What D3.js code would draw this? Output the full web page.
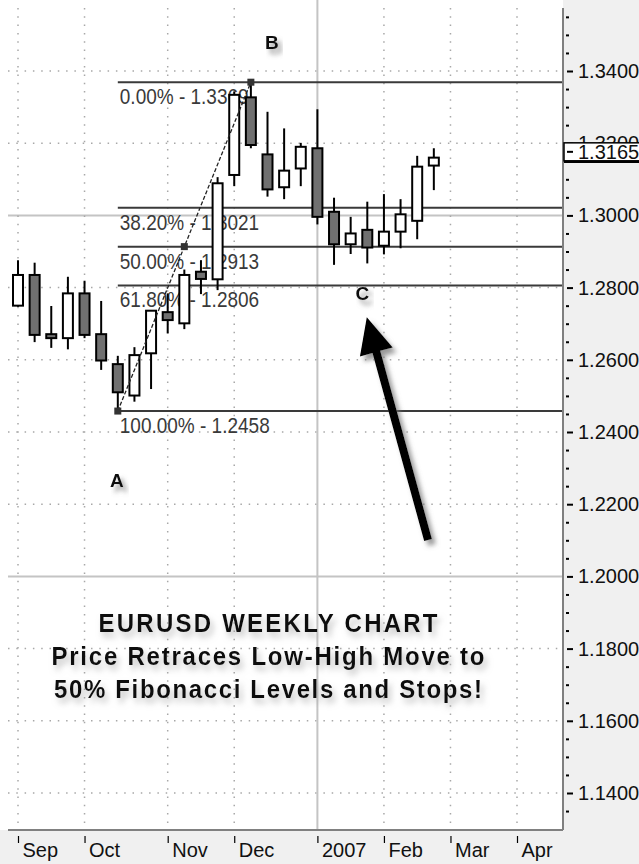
<!DOCTYPE html>
<html lang="en">
<head>
<meta charset="UTF-8">
<title>EURUSD Weekly Chart</title>
<script src="https://d3js.org/d3.v7.min.js"></script>
<style>
  body { margin: 0; background: #fff; }
  svg text { font-family: "Liberation Sans", Arial, sans-serif; }
</style>
</head>
<body>
<script>
// weekly bars, Sep 2006 - Feb 2007
const weeks  = ["2006-09-03","2006-09-10","2006-09-17","2006-09-24","2006-10-01","2006-10-08","2006-10-15",
                "2006-10-22","2006-10-29","2006-11-05","2006-11-12","2006-11-19","2006-11-26","2006-12-03",
                "2006-12-10","2006-12-17","2006-12-24","2006-12-31","2007-01-07","2007-01-14","2007-01-21",
                "2007-01-28","2007-02-04","2007-02-11","2007-02-18","2007-02-25"];
const opens  = [1.2750,1.2835,1.2671,1.2660,1.2784,1.2671,1.2588,1.2501,1.2618,1.2732,1.2701,1.2844,1.2823,
                1.3112,1.3327,1.3169,1.3078,1.3130,1.3186,1.3010,1.2920,1.2960,1.2916,1.2955,1.2985,1.3138];
const highs  = [1.2876,1.2869,1.2749,1.2830,1.2819,1.2763,1.2611,1.2635,1.2738,1.2784,1.2850,1.2876,1.3106,
                1.3343,1.3369,1.3287,1.3241,1.3201,1.3294,1.3049,1.2996,1.3038,1.3059,1.3045,1.3165,1.3186];
const lows   = [1.2747,1.2649,1.2633,1.2629,1.2660,1.2572,1.2458,1.2484,1.2519,1.2673,1.2685,1.2782,1.2793,
                1.3081,1.3186,1.3052,1.3045,1.3081,1.2975,1.2863,1.2893,1.2867,1.2892,1.2909,1.2934,1.3070];
const closes = [1.2835,1.2669,1.2660,1.2784,1.2669,1.2598,1.2510,1.2613,1.2736,1.2710,1.2835,1.2824,1.3089,
                1.3334,1.3195,1.3072,1.3124,1.3190,1.2996,1.2920,1.2950,1.2911,1.2955,1.3003,1.3135,1.3160];

const monthTicks  = [0, 4, 9, 13, 18, 22, 26, 30];
const monthLabels = ["Sep", "Oct", "Nov", "Dec", "2007", "Feb", "Mar", "Apr"];
const priceTicks  = d3.range(0, 11).map(k => 1.14 + k * 0.02);
const majorPrices = [1.30, 1.20];
const yearTick = 18;

const fibRatios = [0, 0.382, 0.5, 0.618, 1];
const fibPrices = [1.3369, 1.3021, 1.2913, 1.2806, 1.2458];
const swingLow  = {week: 6, price: 1.2458};
const swingHigh = {week: 14, price: 1.3369};
const lastPrice = 1.3165;

const letters = [
  {t: "B", week: 15.27, price: 1.3480},
  {t: "A", week: 5.95, price: 1.2267},
  {t: "C", week: 20.7, price: 1.2785}
];
const titleLines = ["EURUSD WEEKLY CHART", "Price Retraces Low-High Move to", "50% Fibonacci Levels and Stops!"];
const titlePrices = [1.1846, 1.1755, 1.1663];
const titleWidths = [339, 433, 428];
const arrowTail = {week: 24.65, price: 1.2101};
const arrowTip  = {week: 20.97, price: 1.2718};

const width = 639, height = 864;
const plotRight = 563, plotBottom = 830;

const x = d3.scaleLinear().domain([0, 30]).range([18, 517]);
const y = d3.scaleLinear().domain([1.14, 1.34]).range([793, 71]);

const svg = d3.select("body").append("svg")
  .attr("width", width)
  .attr("height", height);

function addShadow(id, blur, dx, dy, color, op) {
  const f = svg.append("defs").append("filter").attr("id", id)
    .attr("x", "-20%").attr("y", "-30%").attr("width", "150%").attr("height", "180%");
  f.append("feGaussianBlur").attr("in", "SourceAlpha").attr("stdDeviation", blur).attr("result", "b");
  f.append("feOffset").attr("in", "b").attr("dx", dx).attr("dy", dy).attr("result", "o");
  f.append("feFlood").attr("flood-color", color).attr("flood-opacity", op);
  f.append("feComposite").attr("in2", "o").attr("operator", "in").attr("result", "s");
  const m = f.append("feMerge");
  m.append("feMergeNode").attr("in", "s");
  m.append("feMergeNode").attr("in", "SourceGraphic");
}
addShadow("shadow", 2.5, 4, 5, "#777", 0.75);
addShadow("tshadow", 3, 3, 5, "#999", 0.6);

// backgrounds
svg.append("rect").attr("width", width).attr("height", height).attr("fill", "#f0f0f0");
svg.append("rect").attr("width", plotRight).attr("height", plotBottom).attr("fill", "#fff");

// grid
const isMajor = d => majorPrices.some(m => Math.abs(m - d) < 1e-6);
const grid = svg.append("g");
grid.selectAll(".hg").data(priceTicks).join("line")
  .attr("x1", 8).attr("x2", plotRight)
  .attr("y1", d => y(d)).attr("y2", d => y(d))
  .attr("stroke", d => isMajor(d) ? "#c4c4c4" : "#a8a8a8")
  .attr("stroke-width", d => isMajor(d) ? 2 : 1.5)
  .attr("stroke-dasharray", d => isMajor(d) ? null : "1.5,6.8");
grid.selectAll(".vg").data(monthTicks).join("line")
  .attr("x1", d => x(d)).attr("x2", d => x(d))
  .attr("y1", d => d === yearTick ? 0 : 8).attr("y2", plotBottom)
  .attr("stroke", d => d === yearTick ? "#c4c4c4" : "#a8a8a8")
  .attr("stroke-width", d => d === yearTick ? 2 : 1.5)
  .attr("stroke-dasharray", d => d === yearTick ? null : "1.5,6.8");

// fibonacci levels
const fib = svg.append("g");
fib.selectAll("line").data(fibPrices).join("line")
  .attr("x1", x(swingLow.week)).attr("x2", plotRight)
  .attr("y1", d => y(d)).attr("y2", d => y(d))
  .attr("stroke", "#3a3a3a").attr("stroke-width", 2);
fib.selectAll("text").data(fibPrices).join("text")
  .attr("transform", d => `translate(${x(swingLow.week) + 2},${y(d) + 22}) scale(1,1.12)`)
  .attr("font-size", 19).attr("fill", "#3a3a3a")
  .text((d, i) => d3.format(".2f")(fibRatios[i] * 100) + "% - " + d.toFixed(4));

// candles
const candles = weeks.map((w, i) => ({i, o: opens[i], h: highs[i], l: lows[i], c: closes[i]}));
const cg = svg.append("g");
cg.selectAll(".wick").data(candles).join("line")
  .attr("x1", d => x(d.i)).attr("x2", d => x(d.i))
  .attr("y1", d => y(d.h)).attr("y2", d => y(d.l))
  .attr("stroke", "#000").attr("stroke-width", 2);
cg.selectAll(".body").data(candles).join("rect")
  .attr("x", d => x(d.i) - 5).attr("width", 10)
  .attr("y", d => y(Math.max(d.o, d.c)))
  .attr("height", d => Math.max(1, Math.abs(y(d.o) - y(d.c))))
  .attr("fill", d => d.c >= d.o ? "#fff" : "#707070")
  .attr("stroke", "#000").attr("stroke-width", 2);

// swing line with handles
const mid = {week: (swingLow.week + swingHigh.week) / 2, price: (swingLow.price + swingHigh.price) / 2};
svg.append("line")
  .attr("x1", x(swingLow.week)).attr("y1", y(swingLow.price))
  .attr("x2", x(swingHigh.week)).attr("y2", y(swingHigh.price))
  .attr("stroke", "#222").attr("stroke-width", 1.3).attr("stroke-dasharray", "4,2");
svg.selectAll(".handle").data([swingLow, mid, swingHigh]).join("rect")
  .attr("x", d => x(d.week) - 3.5).attr("y", d => y(d.price) - 3.5)
  .attr("width", 7).attr("height", 7).attr("fill", "#333");

// axes
svg.append("line").attr("x1", plotRight).attr("x2", plotRight).attr("y1", 8).attr("y2", plotBottom)
  .attr("stroke", "#808080").attr("stroke-width", 2);
svg.append("line").attr("x1", 8).attr("x2", plotRight).attr("y1", plotBottom).attr("y2", plotBottom)
  .attr("stroke", "#808080").attr("stroke-width", 2);

const minorTicks = d3.range(0, 45).map(k => 1.135 + k * 0.005)
  .filter(v => y(v) > 10 && y(v) < plotBottom - 1 && !priceTicks.some(p => Math.abs(p - v) < 1e-6));
const minorAxis = svg.append("g").attr("transform", `translate(${plotRight + 3},0)`)
  .call(d3.axisRight(y).tickValues(minorTicks).tickSize(3).tickSizeOuter(0).tickFormat(""));
minorAxis.select(".domain").remove();
minorAxis.selectAll("line").attr("stroke", "#000").attr("stroke-width", 2);

const yAxis = svg.append("g").attr("transform", `translate(${plotRight + 4},0)`)
  .call(d3.axisRight(y).tickValues(priceTicks).tickSize(6).tickPadding(5).tickSizeOuter(0)
    .tickFormat(d3.format(".4f")));
yAxis.select(".domain").remove();
yAxis.selectAll("line").attr("stroke", "#000").attr("stroke-width", 2);
yAxis.selectAll("text").attr("font-size", 20).attr("fill", "#111")
  .style("font-family", '"Liberation Sans", Arial, sans-serif');

const xAxis = svg.append("g").attr("transform", `translate(0,${plotBottom + 6})`)
  .call(d3.axisBottom(x).tickValues(monthTicks).tickSize(7).tickSizeOuter(0)
    .tickFormat((d, i) => monthLabels[i]));
xAxis.select(".domain").remove();
xAxis.selectAll("line").attr("stroke", "#000").attr("stroke-width", 1.2);
xAxis.selectAll("text").attr("font-size", 20).attr("fill", "#111")
  .attr("text-anchor", "start").attr("x", 4).attr("y", 7).attr("dy", "0.71em")
  .style("font-family", '"Liberation Sans", Arial, sans-serif');

// last price box
const lp = svg.append("g");
lp.append("rect").attr("x", plotRight + 1).attr("y", y(lastPrice) - 13)
  .attr("width", 76).attr("height", 18).attr("fill", "#fff").attr("stroke", "#000").attr("stroke-width", 1.5);
lp.append("line").attr("x1", plotRight + 1).attr("x2", width).attr("y1", y(lastPrice) + 6).attr("y2", y(lastPrice) + 6)
  .attr("stroke", "#000").attr("stroke-width", 2.5);
lp.append("line").attr("x1", plotRight + 4).attr("x2", plotRight + 10)
  .attr("y1", y(lastPrice) - 4).attr("y2", y(lastPrice) - 4).attr("stroke", "#000").attr("stroke-width", 2);
lp.append("text").attr("x", plotRight + 15).attr("y", y(lastPrice) - 4).attr("dy", "0.35em")
  .attr("font-size", 20).attr("fill", "#111").text(lastPrice.toFixed(4));

// annotations
svg.selectAll(".letter").data(letters).join("text")
  .attr("x", d => x(d.week)).attr("y", d => y(d.price)).attr("dy", "0.35em")
  .attr("text-anchor", "middle").attr("font-size", 19).attr("font-weight", "bold")
  .attr("fill", "#111").attr("filter", "url(#shadow)").text(d => d.t);

svg.selectAll(".title").data(titleLines).join("text")
  .attr("transform", (d, i) => `translate(${x(15.03)},${y(titlePrices[i])}) scale(1,1.05)`)
  .attr("text-anchor", "middle").attr("font-size", 24).attr("font-weight", "bold")
  .attr("textLength", (d, i) => titleWidths[i]).attr("lengthAdjust", "spacing")
  .attr("fill", "#111").attr("filter", "url(#tshadow)").text(d => d);

// arrow
const tx = x(arrowTail.week), ty = y(arrowTail.price);
const hx = x(arrowTip.week), hy = y(arrowTip.price);
const len = Math.hypot(hx - tx, hy - ty);
const ux = (hx - tx) / len, uy = (hy - ty) / len;
const nx = -uy, ny = ux;
const headLen = 36, headW = 17, shaftW = 4;
const bx = hx - ux * headLen, by = hy - uy * headLen;
const pts = [
  [tx + nx * shaftW, ty + ny * shaftW],
  [bx + nx * shaftW, by + ny * shaftW],
  [bx + nx * headW, by + ny * headW],
  [hx, hy],
  [bx - nx * headW, by - ny * headW],
  [bx - nx * shaftW, by - ny * shaftW],
  [tx - nx * shaftW, ty - ny * shaftW]
];
svg.append("polygon").attr("points", pts.map(p => p.join(",")).join(" "))
  .attr("fill", "#000").attr("filter", "url(#shadow)");
</script>
</body>
</html>
